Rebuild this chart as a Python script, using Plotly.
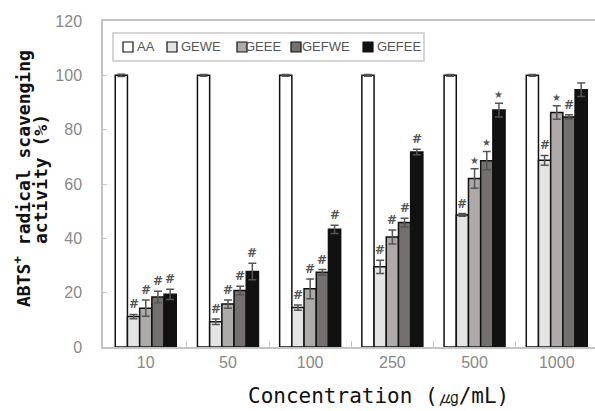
import plotly.graph_objects as go

categories = ["10", "50", "100", "250", "500", "1000"]
series_names = ["AA", "GEWE", "GEEE", "GEFWE", "GEFEE"]

aa_vals = [100, 100, 100, 100, 100, 100]
aa_err = [0.4, 0.3, 0.3, 0.3, 0.3, 0.3]
gewe_vals = [11.2, 9.3, 14.5, 29.5, 48.6, 68.7]
gewe_err = [0.8, 1.0, 1.0, 2.4, 0.5, 1.8]
geee_vals = [14.3, 15.8, 21.4, 40.5, 62.0, 86.3]
geee_err = [3.0, 1.5, 3.6, 2.6, 3.6, 2.5]
gefwe_vals = [18.4, 20.8, 27.5, 45.8, 68.6, 84.7]
gefwe_err = [2.1, 1.6, 1.0, 1.6, 3.4, 0.8]
gefee_vals = [19.4, 27.8, 43.3, 71.8, 87.2, 94.7]
gefee_err = [1.9, 3.0, 1.5, 1.0, 2.5, 2.5]

gewe_marks = ["#", "#", "#", "#", "#", "#"]
geee_marks = ["#", "#", "#", "#", "★", "★"]
gefwe_marks = ["#", "#", "#", "#", "★", "#"]
gefee_marks = ["#", "#", "#", "#", "★", ""]

colors = ["#ffffff", "#e4e4e4", "#aeaaa9", "#73706f", "#111111"]

values = [aa_vals, gewe_vals, geee_vals, gefwe_vals, gefee_vals]
errors = [aa_err, gewe_err, geee_err, gefwe_err, gefee_err]
marks = [None, gewe_marks, geee_marks, gefwe_marks, gefee_marks]

W, H = 595, 411
ML, MR, MT, MB = 103, 0, 21, 64
PW, PH = W - ML - MR, H - MT - MB


def px_x(p):
    return (p - ML) / PW


def px_y(p):
    return (H - MB - p) / PH


xpos = list(range(len(categories)))

fig = go.Figure()
for name, vals, errs, col in zip(series_names, values, errors, colors):
    fig.add_trace(go.Bar(
        name=name, x=xpos, y=vals,
        marker=dict(color=col, line=dict(color="#111111", width=1.5)),
        error_y=dict(type="data", array=errs, color="#555555", thickness=1.5, width=4),
    ))

fig.update_layout(
    barmode="group",
    bargap=0.258,
    bargroupgap=0,
    width=W, height=H,
    margin=dict(l=ML, r=MR, t=MT, b=MB, autoexpand=False),
    plot_bgcolor="white",
    paper_bgcolor="white",
    showlegend=False,
    xaxis=dict(
        range=[-0.52, 5.465],
        tickvals=xpos, ticktext=categories, ticks="",
        minor=dict(tickvals=[i + 0.5 for i in xpos[:-1]], ticks="inside",
                   ticklen=6, tickcolor="#c4c4c4", tickwidth=1),
        showline=True, linecolor="#c4c4c4", linewidth=1.5, mirror=True,
        tickfont=dict(family="Liberation Sans", size=16, color="#888888"),
        showgrid=False, zeroline=False, automargin=False,
    ),
    yaxis=dict(
        range=[0, 120], dtick=20,
        showline=True, linecolor="#c4c4c4", linewidth=1.5, mirror=False,
        ticks="inside", ticklen=4, tickcolor="#c4c4c4",
        tickfont=dict(family="Liberation Sans", size=16, color="#888888"),
        ticklabelstandoff=16,
        showgrid=False, zeroline=False, automargin=False,
    ),
)

# significance marks above error bars
n = len(series_names)
group_w = 1 - 0.258
for si in range(1, n):
    for ci in xpos:
        m = marks[si][ci]
        if not m:
            continue
        is_star = (m == "★")
        fig.add_annotation(
            x=ci + (si - (n - 1) / 2) * group_w / n,
            y=values[si][ci] + errors[si][ci],
            xref="x", yref="y",
            text=m if is_star else "<b>#</b>", showarrow=False, yanchor="bottom",
            yshift=1,
            font=dict(family="DejaVu Sans", size=10 if is_star else 12, color="#555555"),
        )

# y-axis title (two lines)
title_font = dict(family="DejaVu Sans Mono", size=18, color="#111111")
fig.add_annotation(text="<b>ABTS<sup>+</sup> radical scavenging</b>", xref="paper", yref="paper",
                   x=px_x(22), y=px_y(179), textangle=-90, showarrow=False,
                   xanchor="center", yanchor="middle", font=title_font)
fig.add_annotation(text="<b>activity (%)</b>", xref="paper", yref="paper",
                   x=px_x(40), y=px_y(179), textangle=-90, showarrow=False,
                   xanchor="center", yanchor="middle", font=title_font)

# x-axis title
fig.add_annotation(
    text="Concentration (㎍/mL)", xref="paper", yref="paper",
    x=px_x(378), y=px_y(410), xanchor="center", yanchor="bottom",
    showarrow=False,
    font=dict(family="DejaVu Sans Mono", size=21, color="#111111"),
)

# legend box
legend_box = (113, 33, 424, 61)
legend_sq_x = [123, 167, 237, 291, 363]
legend_txt_x = [137, 181, 245, 302, 377]
fig.add_shape(type="rect", xref="paper", yref="paper",
              x0=px_x(legend_box[0]), x1=px_x(legend_box[2]),
              y0=px_y(legend_box[1]), y1=px_y(legend_box[3]),
              line=dict(color="#c8c8c8", width=1.5), fillcolor="white", layer="above")
for name, col, sx, tx in zip(series_names, colors, legend_sq_x, legend_txt_x):
    fig.add_shape(type="rect", xref="paper", yref="paper",
                  x0=px_x(sx), x1=px_x(sx + 10), y0=px_y(42), y1=px_y(52),
                  line=dict(color="#111111", width=1.2), fillcolor=col, layer="above")
    fig.add_annotation(text=name, xref="paper", yref="paper",
                       x=px_x(tx), y=px_y(47), xanchor="left", yanchor="middle",
                       showarrow=False, xshift=-2,
                       font=dict(family="Liberation Sans", size=13, color="#555555"))

fig.write_html(
    "out.html",
    config={"displayModeBar": False},
    post_script="document.body.style.margin='0';document.body.style.overflow='hidden';",
)
